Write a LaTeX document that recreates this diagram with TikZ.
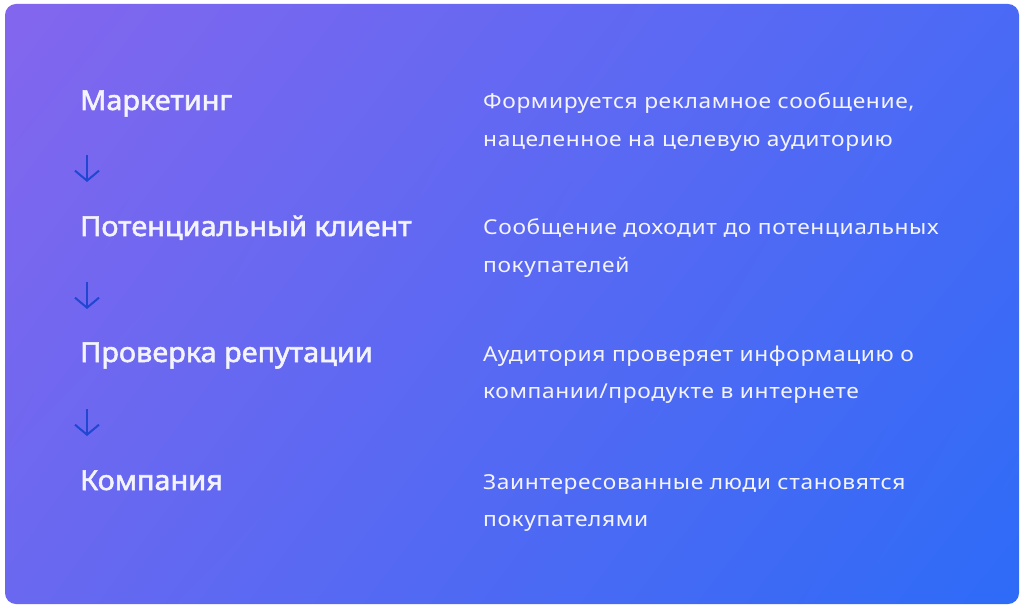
\documentclass[tikz,border=0pt]{standalone}
\usepackage{fontspec}
\setmainfont{Noto Sans}
\newfontfamily\labfont{Noto Sans}[FakeBold=2, FakeStretch=1.05]
\newfontfamily\descfont{Noto Sans}[FakeStretch=1.11, LetterSpace=3]
\usetikzlibrary{arrows.meta,shadings}
\definecolor{cTL}{HTML}{8466EE}
\definecolor{cTR}{HTML}{4A6AF5}
\definecolor{cBL}{HTML}{6A68F0}
\definecolor{cBR}{HTML}{2D6BF7}
\definecolor{txt}{HTML}{F4F4FF}
\definecolor{arr}{HTML}{2046D2}
\tikzset{
  stagelabel/.style={anchor=base west, inner sep=0pt, text=txt, font=\labfont\fontsize{27.5}{32}\selectfont},
  desc/.style={anchor=base west, inner sep=0pt, text=txt, align=left, font=\descfont\fontsize{20.5}{37.5}\selectfont},
  flowarrow/.style={draw=arr, line width=2pt, -{Straight Barb[length=10pt,width=24pt,line width=2pt]}}
}
\begin{document}
\begin{tikzpicture}[x=1pt,y=-1pt]
\useasboundingbox (0,0) rectangle (1024,609);
\fill[white] (0,0) rectangle (1024,609);
\begin{scope}
\clip[rounded corners=11pt] (5,4) rectangle (1019,604);
\shade[upper left=cTL, upper right=cTR, lower left=cBL, lower right=cBR] (5,4) rectangle (1019,604);
\end{scope}
\node[stagelabel] (s1) at (80,110) {Маркетинг};
\node[stagelabel] (s2) at (80,236) {Потенциальный клиент};
\node[stagelabel] (s3) at (80,362) {Проверка репутации};
\node[stagelabel] (s4) at (80,490) {Компания};
\node[desc] (d1) at (483,146.5) {Формируется рекламное сообщение,\\нацеленное на целевую аудиторию};
\node[desc] (d2) at (483,272.5) {Сообщение доходит до потенциальных\\покупателей};
\node[desc] (d3) at (483,398.5) {Аудитория проверяет информацию о\\компании/продукте в интернете};
\node[desc] (d4) at (483,526.5) {Заинтересованные люди становятся\\покупателями};
\coordinate (a1t) at (87,155); \coordinate (a1b) at (87,182);
\coordinate (a2t) at (87,282); \coordinate (a2b) at (87,309);
\coordinate (a3t) at (87,409); \coordinate (a3b) at (87,436);
\draw[flowarrow] (a1t) -- (a1b);
\draw[flowarrow] (a2t) -- (a2b);
\draw[flowarrow] (a3t) -- (a3b);
\end{tikzpicture}
\end{document}
